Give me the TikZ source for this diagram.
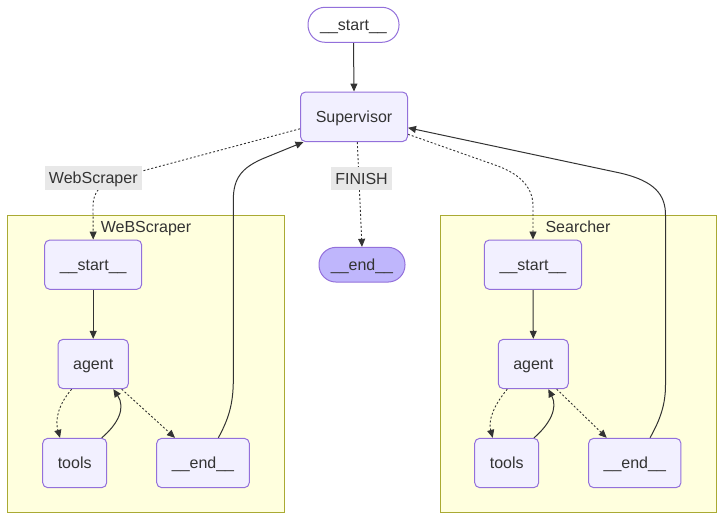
\documentclass[tikz,border=0pt]{standalone}
\usepackage{fontspec}
\setmainfont{Liberation Sans}
\usetikzlibrary{arrows.meta}
\definecolor{nodefill}{HTML}{F2F0FF}
\definecolor{nodeline}{HTML}{9370DB}
\definecolor{lastfill}{HTML}{BFB6FC}
\definecolor{clusterfill}{HTML}{FFFFDE}
\definecolor{clusterline}{HTML}{AAAA33}
\definecolor{edgecol}{HTML}{333333}
\definecolor{labelbg}{HTML}{E8E8E8}
\definecolor{textcol}{HTML}{333333}
\pgfdeclarelayer{bg}
\pgfdeclarelayer{edges}
\pgfsetlayers{bg,edges,main}
\tikzset{
  every node/.style={font=\fontsize{16}{19}\selectfont, text=textcol, inner sep=0pt,
    text height=11.5pt, text depth=0pt},
  graphnode/.style={draw=nodeline, fill=nodefill, line width=1pt, rounded corners=5pt},
  pill/.style={draw=nodeline, line width=1pt, rounded corners=17pt},
  cluster/.style={draw=clusterline, fill=clusterfill, line width=1pt},
  edgelabel/.style={fill=labelbg},
  flow/.style={draw=edgecol, line width=1pt, -{Triangle[length=8pt,width=7pt]}},
  dotflow/.style={flow, line width=0.9pt, dash pattern=on 2pt off 2pt},
}
\begin{document}
\begin{tikzpicture}[x=1pt,y=-1pt]
\useasboundingbox (0,0) rectangle (724,521);

% subgraph frames
\begin{pgfonlayer}{bg}
\node[cluster, minimum width=277pt, minimum height=297pt] (wsframe) at (146,364) {};
\node[cluster, minimum width=276pt, minimum height=297pt] (seframe) at (578,364) {};
\end{pgfonlayer}
\node (wstitle) at (146,227) {WeBScraper};
\node (setitle) at (578,227) {Searcher};

% top-level nodes
\node[pill, fill=white, minimum width=91pt, minimum height=35pt] (start) at (353.5,24.8) {\_\_start\_\_};
\node[graphnode, minimum width=107pt, minimum height=49.5pt] (sup) at (354,116.8) {Supervisor};
\node[pill, fill=lastfill, minimum width=86pt, minimum height=34.7pt] (end) at (362,264.7) {\_\_end\_\_};

% WeBScraper nodes
\node[graphnode, minimum width=97pt, minimum height=49.3pt] (wsstart) at (93.2,264.7) {\_\_start\_\_};
\node[graphnode, minimum width=70.3pt, minimum height=49.3pt] (wsagent) at (93.2,364) {agent};
\node[graphnode, minimum width=64pt, minimum height=49.3pt] (wstools) at (74.7,463) {tools};
\node[graphnode, minimum width=92.6pt, minimum height=49.3pt] (wsend) at (203,463) {\_\_end\_\_};

% Searcher nodes
\node[graphnode, minimum width=97.4pt, minimum height=49.3pt] (sestart) at (533,264.7) {\_\_start\_\_};
\node[graphnode, minimum width=70pt, minimum height=49.3pt] (seagent) at (533.3,364) {agent};
\node[graphnode, minimum width=64pt, minimum height=49.3pt] (setools) at (506.7,463) {tools};
\node[graphnode, minimum width=92.3pt, minimum height=49.3pt] (seend) at (634.8,463) {\_\_end\_\_};

\begin{pgfonlayer}{edges}
% top level
\draw[flow] (start.south) -- (sup.north);
\draw[dotflow] ([xshift=3.3pt]sup.south) -- ([xshift=0pt]end.north);
\draw[dotflow] ([yshift=-12pt]sup.west) -- (118,177.5)
  .. controls (100,183) and (93,193) .. (93,206) -- (wsstart.north);
\draw[dotflow] ([yshift=-17.5pt]sup.east) -- (495,165)
  .. controls (518,173) and (533,186) .. (533,206) -- (sestart.north);
\draw[flow] ([xshift=15.3pt]wsend.north)
  .. controls (228,420) and (233.3,405) .. (233.3,380) -- (233.3,200)
  .. controls (233.3,178) and (242,168) .. (262,159) -- ([xshift=3.5pt]sup.south west);
\draw[flow] ([xshift=15.2pt]seend.north)
  .. controls (660,420) and (665.5,405) .. (665.5,385) -- (665.5,215)
  .. controls (665.5,195) and (655,181) .. (620,173) -- ([yshift=-11pt]sup.east);

% WeBScraper internals
\draw[flow] (wsstart.south) -- (wsagent.north);
\draw[dotflow] ([xshift=-21.5pt]wsagent.south)
  .. controls (58,405) and (55,420) .. ([xshift=-14.7pt]wstools.north);
\draw[flow] ([xshift=27pt]wstools.north)
  .. controls (118,424) and (126,408) .. ([xshift=20.1pt]wsagent.south);
\draw[dotflow] ([xshift=28.5pt]wsagent.south) -- ([xshift=-28pt]wsend.north);

% Searcher internals
\draw[flow] (sestart.south) -- (seagent.north);
\draw[dotflow] ([xshift=-26pt]seagent.south)
  .. controls (494,405) and (488,420) .. ([xshift=-14pt]setools.north);
\draw[flow] ([xshift=27.3pt]setools.north)
  .. controls (550,424) and (558,408) .. ([xshift=15pt]seagent.south);
\draw[dotflow] ([xshift=23.4pt]seagent.south) -- ([xshift=-28.1pt]seend.north);
\end{pgfonlayer}

% edge labels
\node[edgelabel, minimum width=97.3pt, minimum height=24.3pt] (lblws) at (93.3,178.2) {WebScraper};
\node[edgelabel, minimum width=60.5pt, minimum height=23.5pt] (lblfin) at (361.5,178.3) {FINISH};
\end{tikzpicture}
\end{document}
